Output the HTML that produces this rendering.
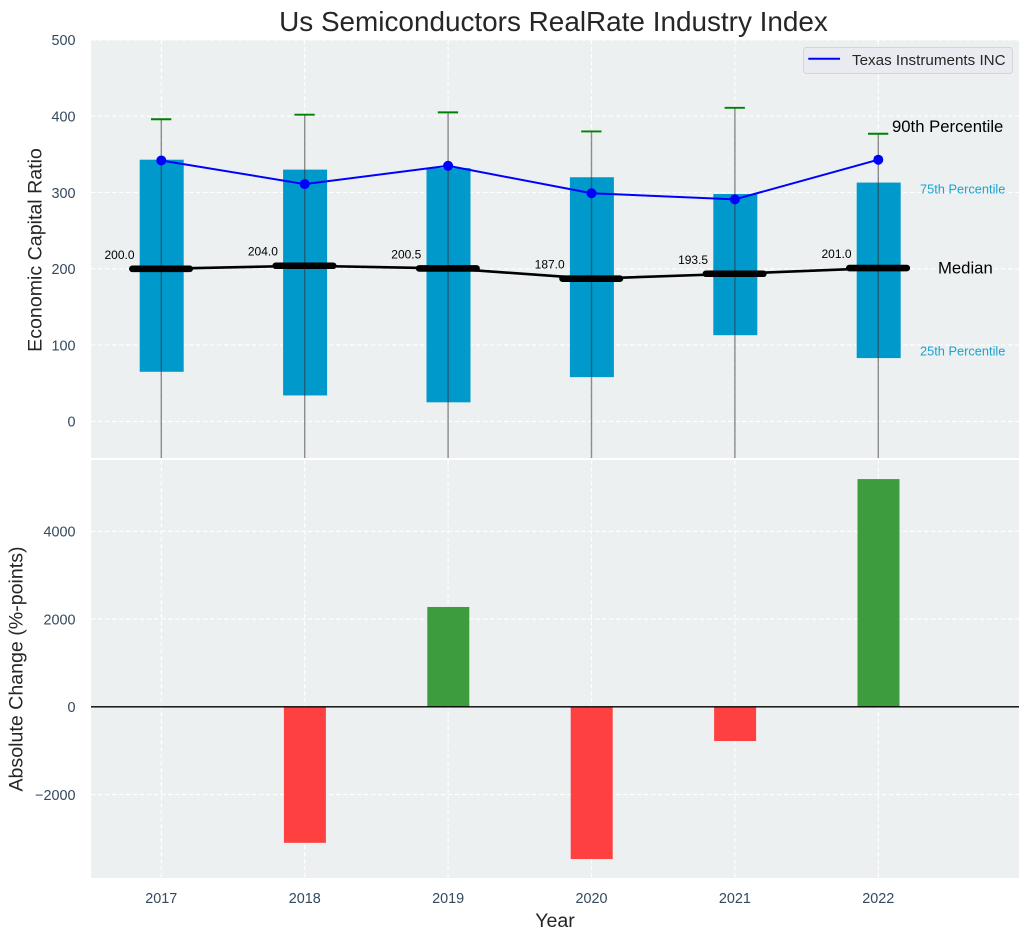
<!DOCTYPE html>
<html>
<head>
<meta charset="utf-8">
<title>Us Semiconductors RealRate Industry Index</title>
<style>
html,body{margin:0;padding:0;background:#fff;width:1029px;height:940px;overflow:hidden}
svg{display:block;font-family:"Liberation Sans",Arial,sans-serif}
</style>
</head>
<body>
<svg id="chart" width="1029" height="940" viewBox="0 0 1029 940" xmlns="http://www.w3.org/2000/svg">
  <defs>
    <clipPath id="top-clip"><rect x="91" y="40" width="928" height="418"></rect></clipPath>
    <clipPath id="bottom-clip"><rect x="91" y="460" width="928" height="418"></rect></clipPath>
  </defs>
  <rect x="91" y="40" width="928" height="418" fill="#ecf0f1"></rect>
  <rect x="91" y="460" width="928" height="418" fill="#ecf0f1"></rect>
  <g id="grid"></g>
  <g id="top-marks" clip-path="url(#top-clip)"></g>
  <g id="bottom-marks" clip-path="url(#bottom-clip)"></g>
  <g id="tick-labels"></g>
  <text x="553.5" y="31" text-anchor="middle" font-size="27.9" fill="#262626">Us Semiconductors RealRate Industry Index</text>
  <text transform="translate(41.5,250) rotate(-90)" text-anchor="middle" font-size="19.6" fill="#262626">Economic Capital Ratio</text>
  <text transform="translate(22.5,669) rotate(-90)" text-anchor="middle" font-size="19.6" fill="#262626">Absolute Change (%-points)</text>
  <text x="555" y="927" text-anchor="middle" font-size="19.6" fill="#262626">Year</text>
  <text x="892" y="132" font-size="16.7" fill="#000">90th Percentile</text>
  <text x="920" y="193.5" font-size="12.8" fill="#1aa3cf">75th Percentile</text>
  <text x="938" y="273.5" font-size="16.7" fill="#000">Median</text>
  <text x="920" y="355.5" font-size="12.8" fill="#1aa3cf">25th Percentile</text>
  <g>
    <rect x="803.5" y="47.5" width="209" height="26" rx="3" fill="#e9ebf0" stroke="#d3d5d8" stroke-width="1"></rect>
    <line x1="808.3" y1="58.8" x2="840" y2="58.8" stroke="#0000ff" stroke-width="2"></line>
    <text x="852" y="65" font-size="15.2" fill="#262626">Texas Instruments INC</text>
  </g>
</svg>
<script>
const years = [2017, 2018, 2019, 2020, 2021, 2022];
const p10Values = [-60, -70, -75, -65, -55, -60];
const p25Values = [65, 34, 25, 58, 113, 83];
const p75Values = [343, 330, 332, 320, 298, 313];
const p90Values = [396, 402, 405, 380, 411, 377];
const medianValues = [200.0, 204.0, 200.5, 187.0, 193.5, 201.0];
const medianLabels = ["200.0", "204.0", "200.5", "187.0", "193.5", "201.0"];
const companyValues = [342, 311, 335, 299, 291, 343];
const changeValues = [0, -3100, 2275, -3470, -780, 5190];
const topTicks = [0, 100, 200, 300, 400, 500];
const bottomTicks = [-2000, 0, 2000, 4000];

const NS = 'http://www.w3.org/2000/svg';
const xScale = function (year) { return 161.3 + (year - 2017) * 143.4; };
const yTop = function (v) { return 421.4 - v * 0.763; };
const yBottom = function (v) { return 706.8 - v * 0.04388; };

function make(parent, tag, attrs, text) {
  const node = document.createElementNS(NS, tag);
  for (const key in attrs) node.setAttribute(key, attrs[key]);
  if (text !== undefined) node.textContent = text;
  parent.appendChild(node);
  return node;
}

const grid = document.getElementById('grid');
const topMarks = document.getElementById('top-marks');
const bottomMarks = document.getElementById('bottom-marks');
const tickLabels = document.getElementById('tick-labels');
const gridStyle = { stroke: '#ffffff', 'stroke-width': 1.1, 'stroke-dasharray': '4.5 2.5' };

topTicks.forEach(function (t) {
  const y = yTop(t);
  const line = make(grid, 'line', Object.assign({ x1: 91, x2: 1019, y1: y, y2: y }, gridStyle));
  
  
  const label = make(tickLabels, 'text', { x: 75.5, y: y + 5.3, 'text-anchor': 'end', 'font-size': 14.4, fill: '#34495e' }, String(t));
  
  
});

bottomTicks.forEach(function (t) {
  const y = yBottom(t);
  const line = make(grid, 'line', Object.assign({ x1: 91, x2: 1019, y1: y, y2: y }, gridStyle));
  
  
  const text = t < 0 ? '\u2212' + Math.abs(t) : String(t);
  const label = make(tickLabels, 'text', { x: 75.5, y: y + 5.3, 'text-anchor': 'end', 'font-size': 14.4, fill: '#34495e' }, text);
  
  
});

years.forEach(function (year) {
  const x = xScale(year);
  const topLine = make(grid, 'line', Object.assign({ x1: x, x2: x, y1: 40, y2: 458 }, gridStyle));
  
  
  const bottomLine = make(grid, 'line', Object.assign({ x1: x, x2: x, y1: 460, y2: 878 }, gridStyle));
  
  
  const label = make(tickLabels, 'text', { x: x, y: 903, 'text-anchor': 'middle', 'font-size': 14.4, fill: '#34495e' }, String(year));
  
  
});

years.forEach(function (year, i) {
  const x = xScale(year);
  const bar = make(topMarks, 'rect', {
    x: x - 21.6, y: yTop(p75Values[i]), width: 44,
    height: yTop(p25Values[i]) - yTop(p75Values[i]), fill: '#0099cc'
  });
  
  
  const whisker = make(topMarks, 'line', {
    x1: x, x2: x, y1: yTop(p90Values[i]), y2: yTop(p10Values[i]),
    stroke: '#333333', 'stroke-opacity': 0.55, 'stroke-width': 1.4
  });
  
  
  const cap = make(topMarks, 'line', {
    x1: x - 10.3, x2: x + 10, y1: yTop(p90Values[i]), y2: yTop(p90Values[i]),
    stroke: '#008000', 'stroke-width': 1.9
  });
  
  
});

const medianPath = make(topMarks, 'polyline', {
  points: years.map(function (year, i) { return xScale(year) + ',' + yTop(medianValues[i]); }).join(' '),
  fill: 'none', stroke: '#000000', 'stroke-width': 2.6
});



years.forEach(function (year, i) {
  const x = xScale(year);
  const y = yTop(medianValues[i]);
  const thick = make(topMarks, 'line', {
    x1: x - 29, x2: x + 28.5, y1: y, y2: y,
    stroke: '#000000', 'stroke-width': 6.6, 'stroke-linecap': 'round'
  });
  
  
  const label = make(topMarks, 'text', {
    x: x - 26.8, y: y - 10, 'text-anchor': 'end', 'font-size': 12, fill: '#000000'
  }, medianLabels[i]);
  
  
});

const companyPath = make(topMarks, 'polyline', {
  points: years.map(function (year, i) { return xScale(year) + ',' + yTop(companyValues[i]); }).join(' '),
  fill: 'none', stroke: '#0000ff', 'stroke-width': 2
});



years.forEach(function (year, i) {
  const dot = make(topMarks, 'circle', {
    cx: xScale(year), cy: yTop(companyValues[i]), r: 5, fill: '#0000ff'
  });
  
  
});

years.forEach(function (year, i) {
  const v = changeValues[i];
  if (v === 0) return;
  const y0 = yBottom(0);
  const y1 = yBottom(v);
  const bar = make(bottomMarks, 'rect', {
    x: xScale(year) - 20.8, y: Math.min(y0, y1), width: 42,
    height: Math.abs(y1 - y0), fill: v > 0 ? '#3d9c3d' : '#ff4040'
  });
  
  
});

const zeroLine = make(bottomMarks, 'line', {
  x1: 91, x2: 1019, y1: yBottom(0), y2: yBottom(0), stroke: '#000000', 'stroke-width': 1.3
});


</script>
</body>
</html>
